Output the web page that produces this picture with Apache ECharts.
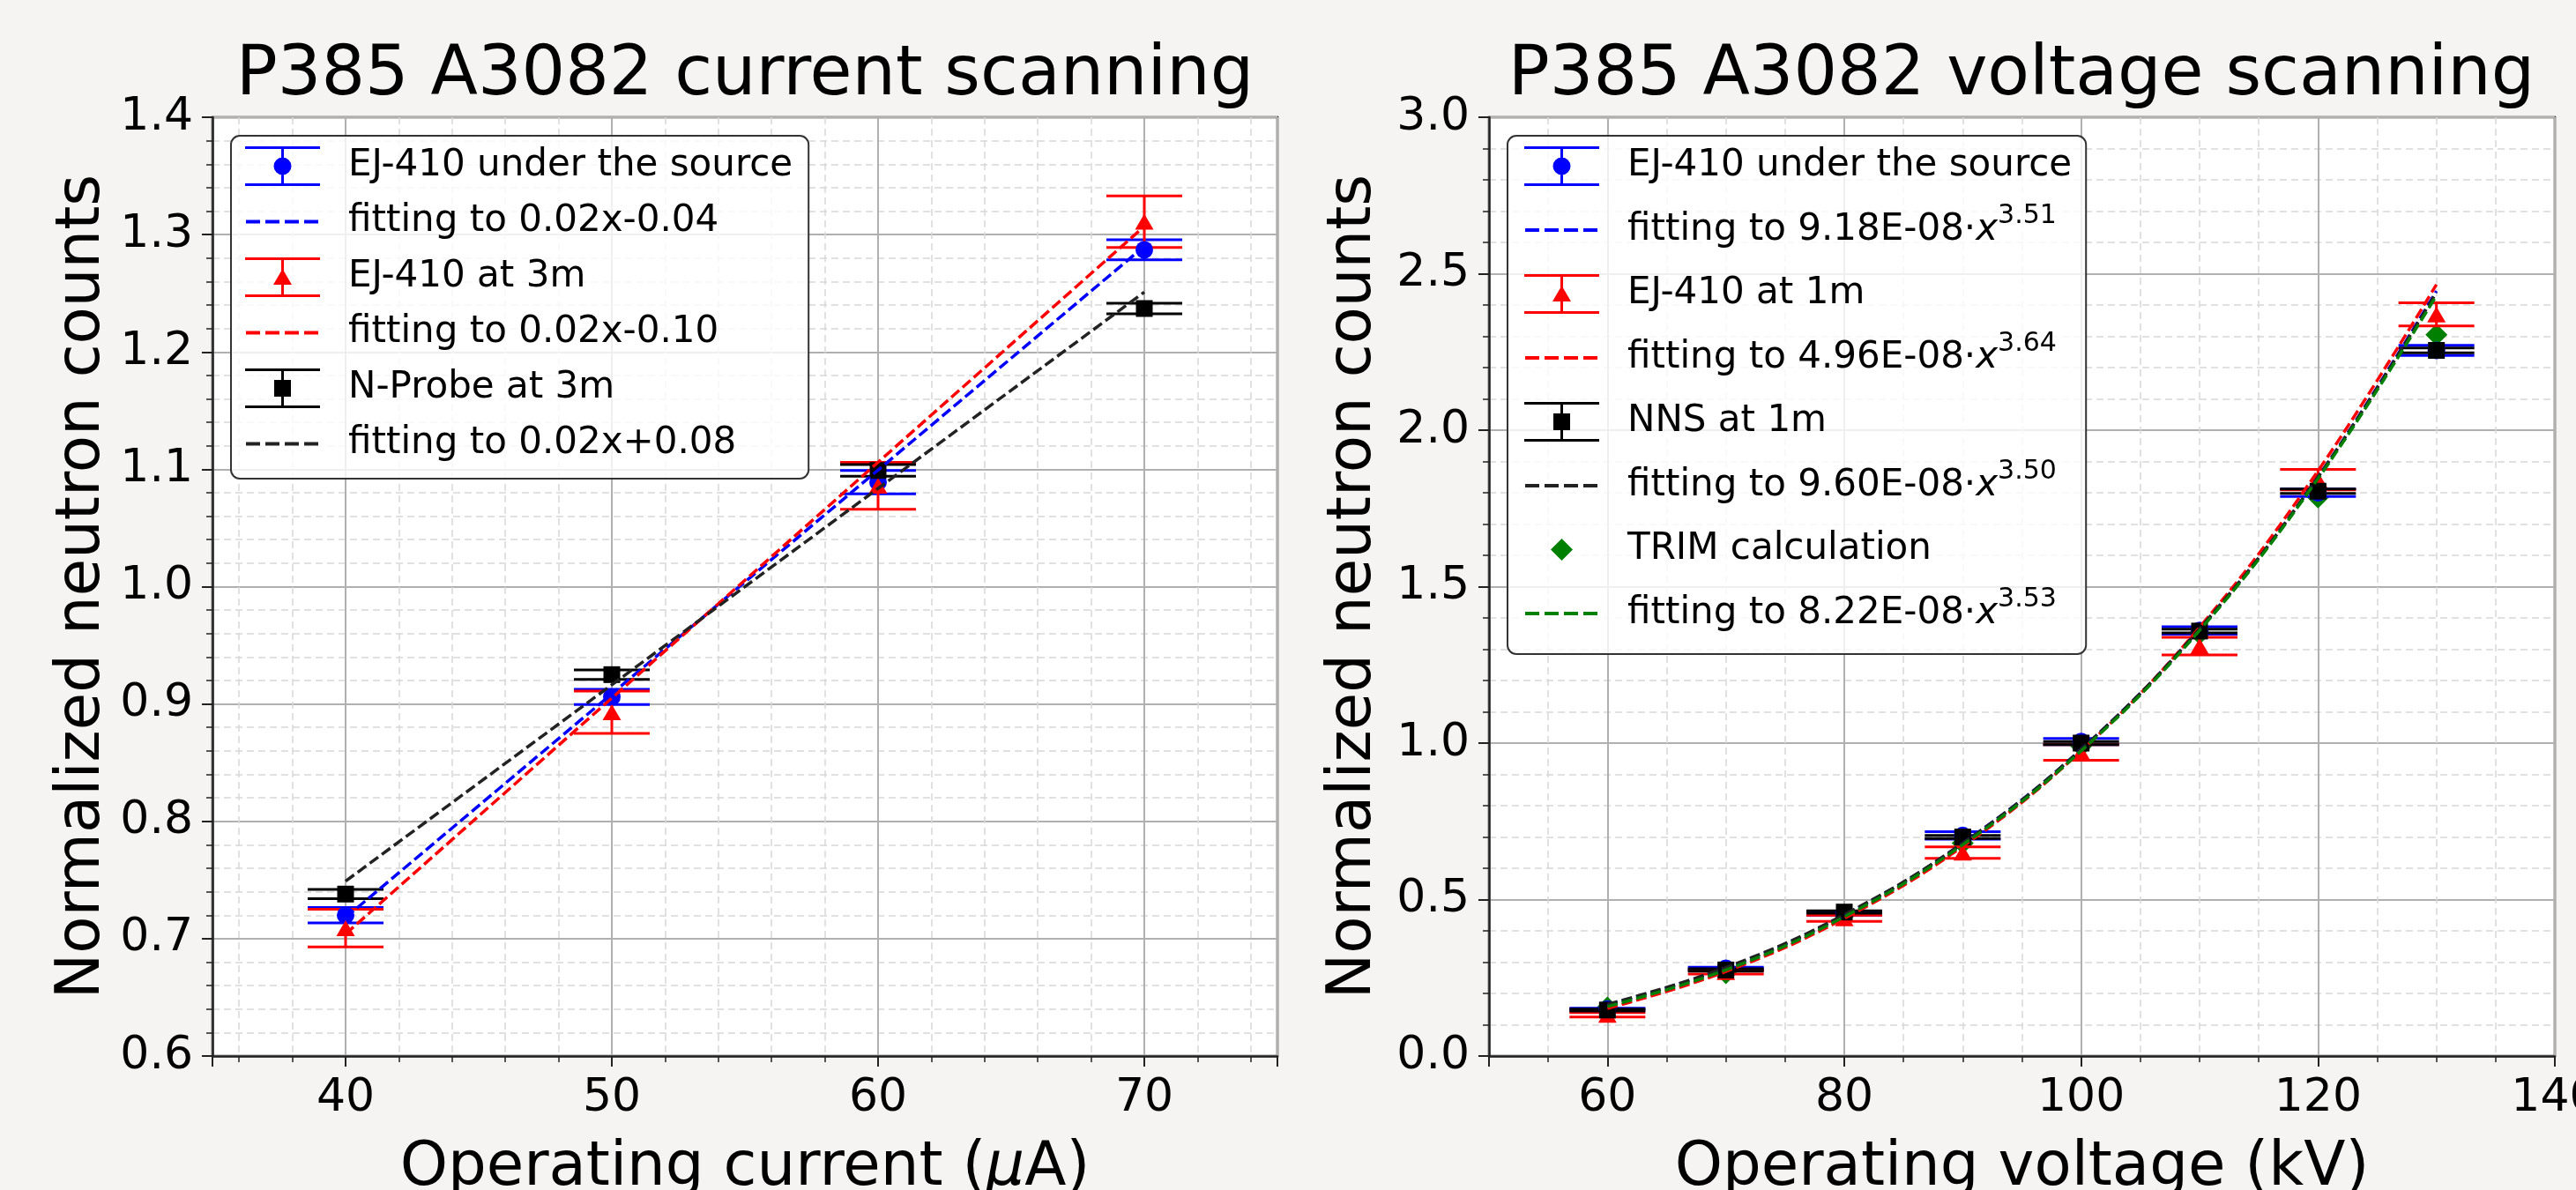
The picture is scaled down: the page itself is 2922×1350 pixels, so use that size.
<!DOCTYPE html>
<html>
<head>
<meta charset="utf-8">
<title>P385 A3082 scanning</title>
<script src="https://cdn.jsdelivr.net/npm/echarts@6/dist/echarts.min.js"></script>
<style>
  html, body { margin: 0; padding: 0; background: #f5f4f2; }
  #chart { width: 2922px; height: 1350px; }
</style>
</head>
<body>
<div id="chart"></div>
<script>
// ---- current scanning (left panel) ----
const currentX = [40, 50, 60, 70];
const srcCurrent = [0.720, 0.906, 1.089, 1.287];
const srcCurrentErr = [0.0065, 0.0065, 0.010, 0.0085];
const ej3mCurrent = [0.709, 0.893, 1.086, 1.311];
const ej3mCurrentErr = [0.016, 0.018, 0.020, 0.022];
const probeCurrent = [0.738, 0.925, 1.099, 1.237];
const probeCurrentErr = [0.004, 0.004, 0.005, 0.0045];
// fitted straight lines, read at both ends
const fitCurrentX = [40, 70];
const fitSrcCurrent = [0.718, 1.290];
const fit3mCurrent = [0.704, 1.307];
const fitProbeCurrent = [0.749, 1.251];

// ---- voltage scanning (right panel) ----
const voltX = [60, 70, 80, 90, 100, 110, 120, 130];
const srcVolt = [0.150, 0.280, 0.455, 0.705, 1.005, 1.360, 1.800, 2.255];
const srcVoltErr = [0.003, 0.004, 0.005, 0.012, 0.010, 0.012, 0.012, 0.016];
const ej1mVolt = [0.132, 0.268, 0.440, 0.650, 0.970, 1.310, 1.842, 2.370];
const ej1mVoltErr = [0.007, 0.006, 0.010, 0.018, 0.025, 0.028, 0.033, 0.037];
const nnsVolt = [0.147, 0.275, 0.460, 0.700, 1.000, 1.358, 1.805, 2.255];
const nnsVoltErr = [0.003, 0.004, 0.004, 0.005, 0.005, 0.006, 0.007, 0.008];
const trimVolt = [0.155, 0.265, 0.450, 0.680, 0.990, 1.350, 1.785, 2.305];
// fitted power-law curves, read at each measured voltage
const fitSrcVolt = [0.163, 0.281, 0.450, 0.680, 0.980, 1.365, 1.850, 2.445];
const fit1mVolt = [0.152, 0.270, 0.440, 0.670, 0.975, 1.370, 1.870, 2.465];
const fitNnsVolt = [0.165, 0.283, 0.452, 0.680, 0.980, 1.365, 1.850, 2.440];
const fitTrimVolt = [0.158, 0.275, 0.445, 0.675, 0.975, 1.360, 1.845, 2.430];

const FONT = 'DejaVu Sans';
const BLUE = '#0000ff', RED = '#ff0000', BLACK = '#000000', GREEN = '#008000';

// legend handles (112 x 45 box, the empty points keep the box size)
const PAD = ' M0 0L0 0 M112 45L112 45';
const BAR = 'M0 0H85V3H0Z M0 42H85V45H0Z M41 3H44V42H41Z ';
const iconCircle = 'path://' + BAR + 'M32.5 22.5A10 10 0 1 1 52.5 22.5A10 10 0 1 1 32.5 22.5Z' + PAD;
const iconTri = 'path://' + BAR + 'M42.5 13L53 31H32Z' + PAD;
const iconSquare = 'path://' + BAR + 'M33 13H52V32H33Z' + PAD;
const iconDiamond = 'path://M42.5 10L55 22.5L42.5 35L30 22.5Z' + PAD;
const iconDash = 'path://M1 20.5H17V24.5H1Z M23 20.5H39V24.5H23Z M45 20.5H61V24.5H45Z M67 20.5H83V24.5H67Z' + PAD;

function errData(xs, ys, es) {
  return xs.map((x, i) => [x, ys[i] - es[i], ys[i] + es[i]]);
}
function pairs(xs, ys) {
  return xs.map((x, i) => [x, ys[i]]);
}

function errSeries(name, idx, xs, ys, es, color) {
  return {
    name: name, type: 'custom', xAxisIndex: idx, yAxisIndex: idx,
    itemStyle: { color: color }, silent: true,
    encode: { x: 0, y: [1, 2] },
    data: errData(xs, ys, es),
    renderItem: function (params, api) {
      const lo = api.coord([api.value(0), api.value(1)]);
      const hi = api.coord([api.value(0), api.value(2)]);
      const hw = 43;
      const st = { stroke: color, lineWidth: 3 };
      return {
        type: 'group',
        children: [
          { type: 'line', shape: { x1: lo[0], y1: lo[1], x2: hi[0], y2: hi[1] }, style: st },
          { type: 'line', shape: { x1: lo[0] - hw, y1: lo[1], x2: lo[0] + hw, y2: lo[1] }, style: st },
          { type: 'line', shape: { x1: hi[0] - hw, y1: hi[1], x2: hi[0] + hw, y2: hi[1] }, style: st }
        ]
      };
    }
  };
}
function markSeries(name, idx, xs, ys, color, symbol, size) {
  return {
    name: name, type: 'scatter', xAxisIndex: idx, yAxisIndex: idx,
    symbol: symbol, symbolSize: size, silent: true,
    itemStyle: { color: color, opacity: 1 },
    data: pairs(xs, ys)
  };
}
function fitSeries(name, idx, xs, ys, color, smooth) {
  return {
    name: name, type: 'line', xAxisIndex: idx, yAxisIndex: idx,
    symbol: 'none', smooth: smooth, silent: true,
    itemStyle: { color: color },
    lineStyle: { color: color, width: 3.5, type: [12, 5] },
    data: pairs(xs, ys)
  };
}

function xAxisOf(idx, min, max, split, minorSplit, step, name, gap) {
  return {
    gridIndex: idx, type: 'value', min: min, max: max, splitNumber: split,
    axisLine: { show: true, onZero: false, lineStyle: { color: '#222', width: 2.5 } },
    axisTick: { show: true, length: 12, lineStyle: { color: '#222', width: 2 } },
    minorTick: { show: true, splitNumber: minorSplit, length: 7, lineStyle: { color: '#222', width: 1.5 } },
    splitLine: { show: true, lineStyle: { color: '#b0b0b0', width: 2 } },
    minorSplitLine: { show: true, lineStyle: { color: '#d8d8d8', width: 1.5, type: [8, 5] } },
    axisLabel: {
      fontFamily: FONT, fontSize: 52, color: '#000', margin: 22,
      formatter: v => (Math.abs(v % step) < 1e-9 ? String(v) : '')
    },
    name: name, nameLocation: 'middle', nameGap: gap,
    nameTextStyle: {
      fontFamily: FONT, fontSize: 69, color: '#000',
      rich: { it: { fontFamily: FONT, fontSize: 69, color: '#000', fontStyle: 'italic' } }
    }
  };
}
function yAxisOf(idx, min, max, split, gap) {
  return {
    gridIndex: idx, type: 'value', min: min, max: max, splitNumber: split,
    axisLine: { show: true, onZero: false, lineStyle: { color: '#222', width: 2.5 } },
    axisTick: { show: true, length: 12, lineStyle: { color: '#222', width: 2 } },
    minorTick: { show: true, splitNumber: 5, length: 7, lineStyle: { color: '#222', width: 1.5 } },
    splitLine: { show: true, lineStyle: { color: '#b0b0b0', width: 2 } },
    minorSplitLine: { show: true, lineStyle: { color: '#d8d8d8', width: 1.5, type: [8, 5] } },
    axisLabel: { fontFamily: FONT, fontSize: 52, color: '#000', margin: 22, formatter: v => v.toFixed(1) },
    name: 'Normalized neutron counts', nameLocation: 'middle', nameGap: gap,
    nameTextStyle: { fontFamily: FONT, fontSize: 69, color: '#000' }
  };
}

function legendItem(name, icon, color) {
  return { name: name, icon: icon, itemStyle: { color: color, borderWidth: 0 } };
}
function legendOf(left, pad, gap, items) {
  return {
    orient: 'vertical', left: left, top: 154, selectedMode: false,
    itemWidth: 112, itemHeight: 45, itemGap: gap, padding: pad,
    backgroundColor: 'rgba(255,255,255,0.8)', borderColor: '#333', borderWidth: 2, borderRadius: 10,
    textStyle: {
      fontFamily: FONT, fontSize: 42, color: '#000', lineHeight: 45,
      rich: {
        t: { fontFamily: FONT, fontSize: 42, color: '#000', lineHeight: 62 },
        i: { fontFamily: FONT, fontSize: 42, color: '#000', lineHeight: 62, fontStyle: 'italic' },
        s: { fontFamily: FONT, fontSize: 30, color: '#000', verticalAlign: 'top' }
      }
    },
    formatter: function (name) {
      const m = name.match(/^(.*)·x\^(.*)$/);
      return m ? '{t|' + m[1] + '·}{i|x}{s|' + m[2] + '}' : name;
    },
    data: items
  };
}

const chart = echarts.init(document.getElementById('chart'), null, { renderer: 'canvas' });

// TRIM points sit under the other marks, as a scatter does in the original
const trimSeries = markSeries('TRIM calculation', 1, voltX, trimVolt, GREEN, 'diamond', 25);
trimSeries.z = 1;

const option = {
  animation: false,
  backgroundColor: '#f5f4f2',
  grid: [
    { left: 241, top: 133, width: 1208, height: 1065, show: true, backgroundColor: '#ffffff',
      borderColor: '#222', borderWidth: 2.5, containLabel: false, outerBoundsMode: 'none' },
    { left: 1689, top: 133, width: 1209, height: 1065, show: true, backgroundColor: '#ffffff',
      borderColor: '#222', borderWidth: 2.5, containLabel: false, outerBoundsMode: 'none' }
  ],
  graphic: [
    { type: 'text', x: 845, y: 87, style: { text: 'P385 A3082 current scanning', fontFamily: FONT, fontSize: 78, fill: '#000', align: 'center', verticalAlign: 'middle' } },
    { type: 'text', x: 2293, y: 87, style: { text: 'P385 A3082 voltage scanning', fontFamily: FONT, fontSize: 78, fill: '#000', align: 'center', verticalAlign: 'middle' } }
  ],
  xAxis: [
    xAxisOf(0, 35, 75, 4, 5, 10, 'Operating current ({it|μ}A)', 94),
    xAxisOf(1, 50, 140, 4, 4, 20, 'Operating voltage (kV)', 94)
  ],
  yAxis: [
    yAxisOf(0, 0.6, 1.4, 8, 112),
    yAxisOf(1, 0, 3, 6, 118)
  ],
  legend: [
    legendOf(262, [12, 18, 17, 16], 18, [
      legendItem('EJ-410 under the source', iconCircle, BLUE),
      legendItem('fitting to 0.02x-0.04', iconDash, BLUE),
      legendItem('EJ-410 at 3m', iconTri, RED),
      legendItem('fitting to 0.02x-0.10', iconDash, RED),
      legendItem('N-Probe at 3m', iconSquare, BLACK),
      legendItem('fitting to 0.02x+0.08', iconDash, '#222')
    ]),
    legendOf(1710, [12, 16, 15, 19], 19, [
      legendItem('EJ-410 under the source', iconCircle, BLUE),
      legendItem('fitting to 9.18E-08·x^3.51', iconDash, BLUE),
      legendItem('EJ-410 at 1m', iconTri, RED),
      legendItem('fitting to 4.96E-08·x^3.64', iconDash, RED),
      legendItem('NNS at 1m', iconSquare, BLACK),
      legendItem('fitting to 9.60E-08·x^3.50', iconDash, '#222'),
      legendItem('TRIM calculation', iconDiamond, GREEN),
      legendItem('fitting to 8.22E-08·x^3.53', iconDash, GREEN)
    ])
  ],
  series: [
    // left panel
    errSeries('EJ-410 under the source', 0, currentX, srcCurrent, srcCurrentErr, BLUE),
    markSeries('EJ-410 under the source', 0, currentX, srcCurrent, BLUE, 'circle', 20),
    fitSeries('fitting to 0.02x-0.04', 0, fitCurrentX, fitSrcCurrent, BLUE, false),
    errSeries('EJ-410 at 3m', 0, currentX, ej3mCurrent, ej3mCurrentErr, RED),
    markSeries('EJ-410 at 3m', 0, currentX, ej3mCurrent, RED, 'triangle', [21, 18]),
    fitSeries('fitting to 0.02x-0.10', 0, fitCurrentX, fit3mCurrent, RED, false),
    errSeries('N-Probe at 3m', 0, currentX, probeCurrent, probeCurrentErr, BLACK),
    markSeries('N-Probe at 3m', 0, currentX, probeCurrent, BLACK, 'rect', 19),
    fitSeries('fitting to 0.02x+0.08', 0, fitCurrentX, fitProbeCurrent, '#222', false),
    // right panel
    trimSeries,
    errSeries('EJ-410 under the source', 1, voltX, srcVolt, srcVoltErr, BLUE),
    markSeries('EJ-410 under the source', 1, voltX, srcVolt, BLUE, 'circle', 20),
    fitSeries('fitting to 9.18E-08·x^3.51', 1, voltX, fitSrcVolt, BLUE, 0.4),
    errSeries('EJ-410 at 1m', 1, voltX, ej1mVolt, ej1mVoltErr, RED),
    markSeries('EJ-410 at 1m', 1, voltX, ej1mVolt, RED, 'triangle', [21, 18]),
    fitSeries('fitting to 4.96E-08·x^3.64', 1, voltX, fit1mVolt, RED, 0.4),
    errSeries('NNS at 1m', 1, voltX, nnsVolt, nnsVoltErr, BLACK),
    markSeries('NNS at 1m', 1, voltX, nnsVolt, BLACK, 'rect', 19),
    fitSeries('fitting to 9.60E-08·x^3.50', 1, voltX, fitNnsVolt, '#222', 0.4),
    fitSeries('fitting to 8.22E-08·x^3.53', 1, voltX, fitTrimVolt, GREEN, 0.4)
  ]
};

chart.setOption(option);
</script>
</body>
</html>
